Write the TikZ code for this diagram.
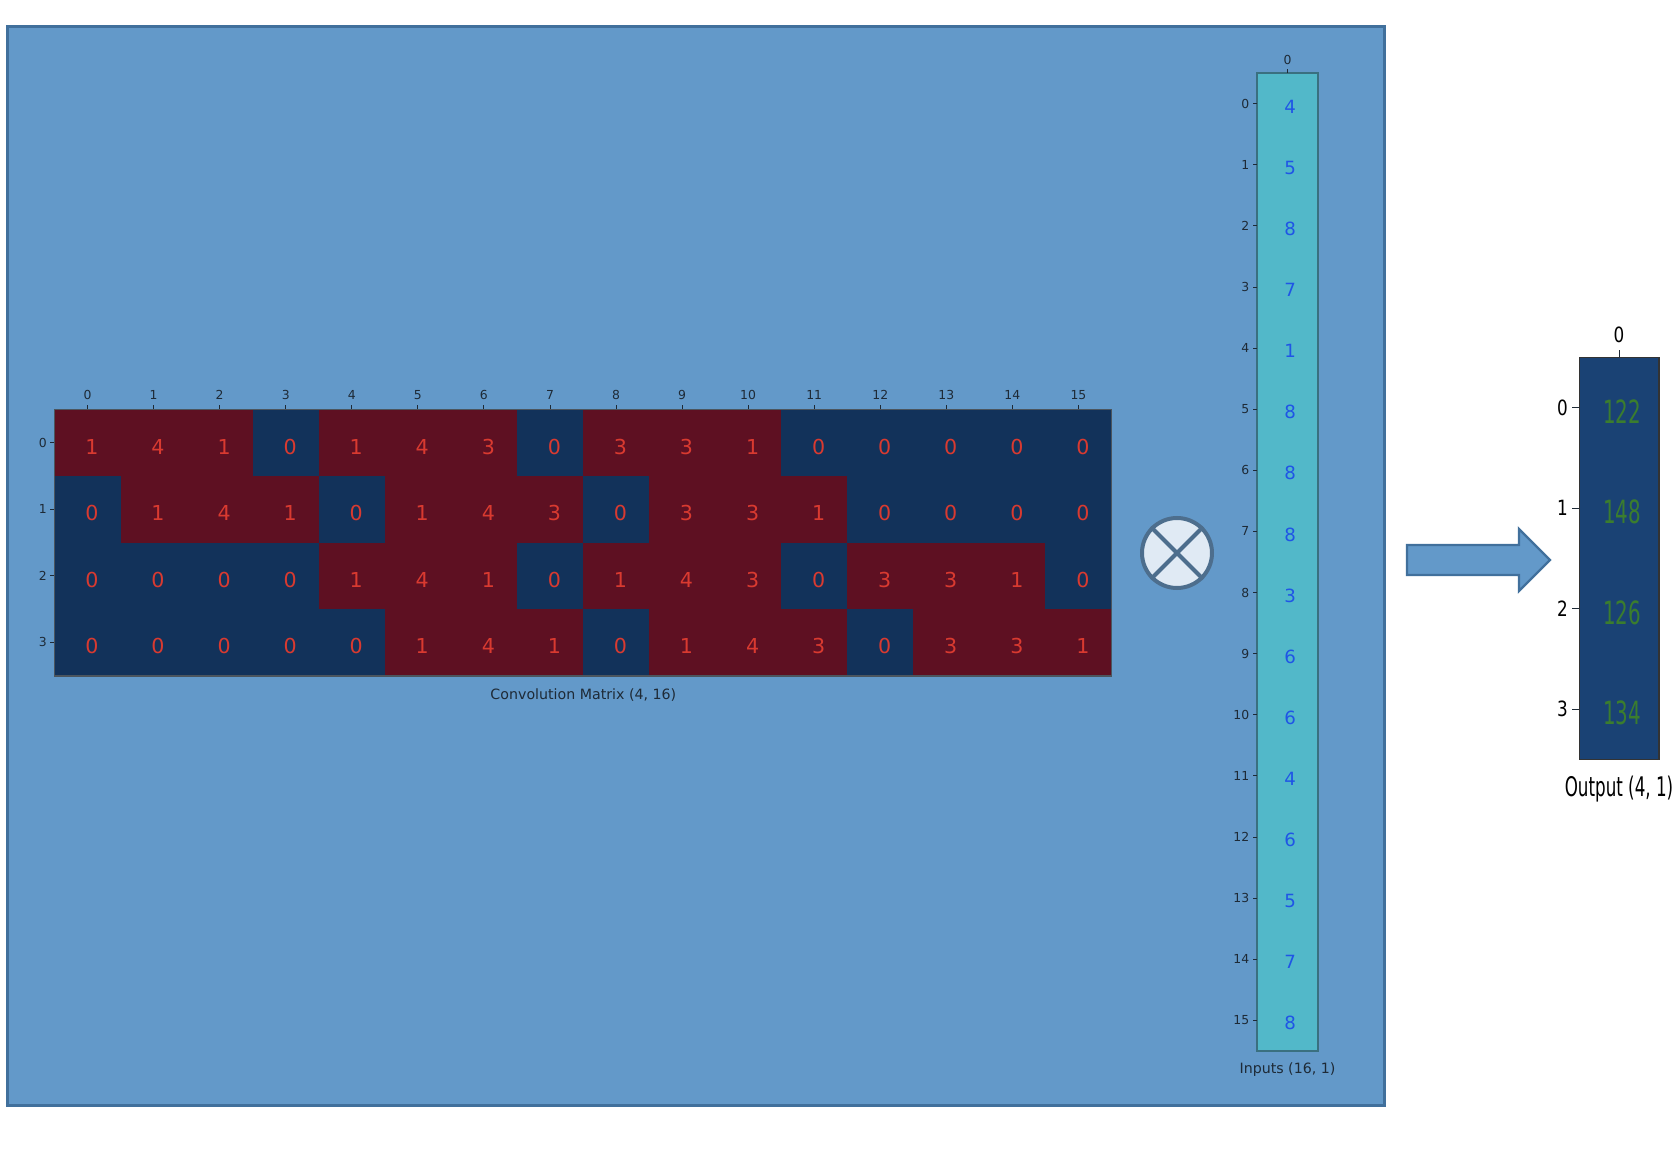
\documentclass[tikz,border=0pt]{standalone}
\usepackage{fontspec}
\setmainfont{DejaVu Sans}
\newfontfamily\narrowfont[FakeStretch=0.62]{DejaVu Sans}
\newfontfamily\semifont[FakeStretch=0.8]{DejaVu Sans}
\usetikzlibrary{positioning,calc}
\definecolor{panelblue}{HTML}{6399C9}
\definecolor{paneledge}{HTML}{41709C}
\definecolor{convwine}{HTML}{5E1022}
\definecolor{convnavy}{HTML}{12325A}
\definecolor{convtext}{HTML}{D93A30}
\definecolor{incyan}{HTML}{52B8C9}
\definecolor{inedge}{HTML}{3A7080}
\definecolor{intext}{HTML}{1F55E6}
\definecolor{outnavy}{HTML}{1A4274}
\definecolor{outtext}{HTML}{3B7D2E}
\definecolor{ticktext}{HTML}{1E2A36}
\definecolor{opfill}{HTML}{E0EAF4}
\definecolor{opedge}{HTML}{4D6E8D}
\tikzset{
panel/.style={fill=panelblue,draw=paneledge,line width=1.5pt},
convcell/.style={minimum width=33.03pt,minimum height=33.25pt,inner sep=0pt,text=convtext,
  text height=11.5pt,text depth=0pt,text width=11pt,align=right,font=\fontsize{10.3}{12}\selectfont},
incell/.style={fill=incyan,minimum width=30.5pt,minimum height=30.56pt,inner sep=0pt,text=intext,
  text height=9.6pt,text depth=0pt,text width=8.5pt,align=right,font=\fontsize{9.1}{11}\selectfont},
outcell/.style={fill=outnavy,minimum width=39.5pt,minimum height=50.2pt,inner sep=0pt,text=outtext,
  text height=15.5pt,text depth=0pt,text width=22pt,align=right,font=\narrowfont\fontsize{16}{18}\selectfont},
matframe/.style={draw=ticktext!80,line width=0.6pt},
inframe/.style={draw=inedge,line width=1pt},
outframe/.style={draw=black!80,line width=0.6pt},
tickmark/.style={draw=ticktext,line width=0.4pt},
ticklab/.style={text=ticktext,inner sep=1pt,font=\fontsize{6.2}{7}\selectfont},
outlab/.style={text=black,inner sep=1pt,font=\semifont\fontsize{10.5}{12}\selectfont},
caption/.style={text=ticktext,inner sep=1pt,font=\fontsize{7.1}{8}\selectfont},
outcaption/.style={text=black,inner sep=1pt,font=\narrowfont\fontsize{13.5}{15}\selectfont},
opnode/.style={circle,fill=opfill,draw=opedge,line width=2pt,minimum size=35pt,inner sep=0pt},
opcross/.style={draw=opedge,line width=2pt},
blockarrow/.style={fill=panelblue,draw=paneledge,line width=1.2pt,line join=miter}
}
\begin{document}
\begin{tikzpicture}[x=0.5pt,y=-0.5pt]
\useasboundingbox (0,0) rectangle (1678,1156);
\draw[panel] (7.5,27) rectangle (1384,1105.5);

% convolution matrix
\foreach \rowvals [count=\r from 0] in {{1,4,1,0,1,4,3,0,3,3,1,0,0,0,0,0},{0,1,4,1,0,1,4,3,0,3,3,1,0,0,0,0},{0,0,0,0,1,4,1,0,1,4,3,0,3,3,1,0},{0,0,0,0,0,1,4,1,0,1,4,3,0,3,3,1}}
  \foreach \v [count=\c from 0] in \rowvals {
    \ifnum\v=0 \def\cellfill{convnavy}\else\def\cellfill{convwine}\fi
    \node[convcell,fill=\cellfill] (m-\r-\c) at ({54.5+66.06*(\c+0.5)},{409.5+66.5*(\r+0.5)}) {\v};
  }
\draw[matframe] (m-0-0.north west) rectangle (m-3-15.south east);
\foreach \c in {0,...,15}
  \draw[tickmark] (m-0-\c.north) -- ++(0,-4) node[ticklab,above=1.5pt] {\c};
\foreach \r in {0,...,3}
  \draw[tickmark] (m-\r-0.west) -- ++(-4,0) node[ticklab,left=0.5pt] {\r};
\node[caption,below=5pt of m-3-7.south east] (convcap) {Convolution Matrix (4, 16)};

% operator
\node[opnode] (op) at (1177,553) {};
\draw[opcross] (op.45) -- (op.225);
\draw[opcross] (op.135) -- (op.315);

% inputs
\foreach \v [count=\k from 0] in {4,5,8,7,1,8,8,8,3,6,6,4,6,5,7,8}
  \node[incell] (in-\k) at (1287.5,{73+61.12*(\k+0.5)}) {\v};
\draw[inframe] (in-0.north west) rectangle (in-15.south east);
\draw[tickmark] (in-0.north) -- ++(0,-4) node[ticklab,above=1pt] {0};
\foreach \k in {0,...,15}
  \draw[tickmark] (in-\k.west) -- ++(-4,0) node[ticklab,left=0.5pt] {\k};
\node[caption,below=4.5pt of in-15.south] (incap) {Inputs (16, 1)};

% arrow
\coordinate (arrtail) at (1407,560);
\draw[blockarrow] (arrtail) ++(0,-15) -- ++(112,0) -- ++(0,-16) -- ++(31,31) -- ++(-31,31) -- ++(0,-16) -- ++(-112,0) -- cycle;

% output
\foreach \v [count=\k from 0] in {122,148,126,134}
  \node[outcell] (out-\k) at (1619,{357.5+100.4*(\k+0.5)}) {\v};
\draw[outframe] (out-0.north west) rectangle (out-3.south east);
\draw[tickmark] (out-0.north) -- ++(0,-7) node[outlab,above=2.5pt] {0};
\foreach \k in {0,...,3}
  \draw[tickmark] (out-\k.west) -- ++(-7,0) node[outlab,left=1pt] {\k};
\node[outcaption,below=7pt of out-3.south] (outcap) {Output (4, 1)};
\end{tikzpicture}
\end{document}
